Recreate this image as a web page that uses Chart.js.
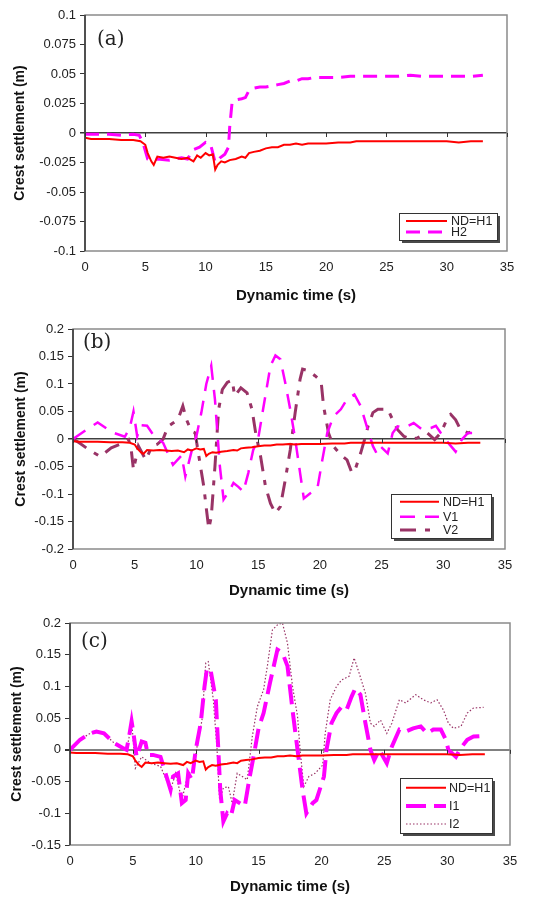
<!DOCTYPE html>
<html>
<head>
<meta charset="utf-8">
<script src="https://cdn.jsdelivr.net/npm/chart.js@4.4.1/dist/chart.umd.min.js"></script>
<style>
  body { margin: 0; background: #fff; }
  #wrap { position: relative; width: 555px; height: 897px; }
  canvas { position: absolute; left: 0; }
</style>
</head>
<body>
<div id="wrap">
  <canvas id="chartA" width="555" height="306" style="top:0px"></canvas>
  <canvas id="chartB" width="555" height="294" style="top:306px"></canvas>
  <canvas id="chartC" width="555" height="297" style="top:600px"></canvas>
</div>
<script>
// ---- data (time in s, settlement in m) ----
var ndT = [0, 0.5, 1, 2, 3, 4, 4.6, 5, 5.2, 5.5, 5.7, 6, 6.5, 7, 7.5, 8, 8.5, 9, 9.3, 9.6, 10, 10.3, 10.6, 10.8, 11, 11.3, 11.6, 12, 12.5, 13, 13.3, 13.6, 14, 14.5, 15, 15.5, 16, 16.5, 17, 17.5, 18, 18.5, 19, 20, 21, 22, 22.5, 23, 24, 25, 26, 27, 28, 29, 30, 31, 32, 33];
var ndV = [-0.004, -0.005, -0.005, -0.005, -0.006, -0.006, -0.007, -0.010, -0.017, -0.024, -0.027, -0.020, -0.021, -0.020, -0.021, -0.022, -0.021, -0.024, -0.019, -0.021, -0.017, -0.019, -0.018, -0.031, -0.027, -0.024, -0.025, -0.023, -0.022, -0.020, -0.021, -0.017, -0.016, -0.015, -0.013, -0.012, -0.012, -0.010, -0.010, -0.009, -0.010, -0.009, -0.009, -0.009, -0.008, -0.008, -0.007, -0.007, -0.007, -0.007, -0.007, -0.007, -0.007, -0.007, -0.007, -0.008, -0.007, -0.007];

var h2T = [0, 1, 2, 3, 4, 4.5, 4.8, 5.2, 5.5, 6, 7, 8, 8.5, 9, 9.5, 10, 10.4, 10.8, 11.2, 11.6, 11.9, 12.0, 12.2, 12.5, 13, 13.3, 13.6, 14, 14.5, 15, 15.5, 16, 16.5, 17, 17.5, 18, 18.5, 19, 19.5, 20, 21, 22, 23, 24, 25, 26, 27, 28, 29, 30, 31, 32, 33];
var h2V = [-0.001, -0.001, -0.001, -0.002, -0.001, -0.002, -0.008, -0.022, -0.023, -0.022, -0.023, -0.021, -0.022, -0.014, -0.012, -0.008, -0.009, -0.025, -0.021, -0.018, -0.012, 0.005, 0.026, 0.028, 0.029, 0.030, 0.036, 0.038, 0.039, 0.039, 0.040, 0.041, 0.042, 0.044, 0.044, 0.046, 0.046, 0.047, 0.047, 0.047, 0.047, 0.048, 0.048, 0.048, 0.048, 0.048, 0.049, 0.048, 0.048, 0.048, 0.048, 0.048, 0.049];

var v1T = [0, 1.1, 2.0, 3.2, 4.2, 4.6, 4.9, 5.2, 5.5, 6.0, 6.4, 6.6, 7.3, 8.1, 8.8, 9.1, 9.6, 10.0, 10.4, 10.8, 11.2, 11.5, 11.9, 12.2, 12.7, 13.0, 13.4, 13.8, 14.2, 14.6, 15.0, 15.4, 16.0, 16.4, 16.8, 17.2, 17.6, 18.0, 18.4, 18.7, 19.2, 19.8, 20.2, 20.6, 21.1, 21.7, 22.2, 22.8, 23.3, 23.8, 24.3, 24.6, 24.9, 25.5, 25.9, 26.3, 26.8, 27.6, 28.3, 29.0, 29.4, 29.8, 30.4, 31.0, 31.5, 32.0, 32.9];
var v1V = [0, 0.017, 0.030, 0.012, 0.004, 0.020, 0.050, 0.005, 0.025, 0.024, 0.011, 0.005, -0.007, -0.047, -0.030, -0.068, -0.023, 0.005, 0.048, 0.100, 0.133, 0.072, -0.050, -0.110, -0.093, -0.080, -0.087, -0.096, -0.062, -0.020, 0, 0.054, 0.133, 0.152, 0.145, 0.102, 0.054, 0, -0.062, -0.108, -0.099, -0.090, -0.038, 0.011, 0.041, 0.054, 0.072, 0.081, 0.060, 0.023, -0.013, -0.026, -0.013, -0.026, 0.011, 0.023, 0.020, 0.029, 0.017, 0.020, 0.024, 0.011, -0.007, -0.023, -0.001, 0.011, 0.011];

var v2T = [0, 0.5, 1.2, 2.2, 3.1, 4.1, 4.5, 4.7, 4.9, 5.3, 5.9, 6.4, 6.8, 7.3, 7.7, 8.1, 8.5, 8.9, 9.2, 9.6, 9.9, 10.2, 10.6, 10.8, 11.0, 11.2, 11.5, 11.8, 12.1, 12.5, 12.9, 13.1, 13.6, 14.1, 14.5, 14.8, 15.2, 15.6, 16.0, 16.4, 16.8, 17.2, 17.6, 18.0, 18.4, 18.6, 19.1, 19.6, 20.1, 20.3, 20.7, 21.1, 21.7, 22.2, 22.6, 22.9, 23.3, 23.7, 23.9, 24.3, 24.7, 25.1, 25.5, 25.9, 26.3, 26.8, 27.4, 27.9, 28.7, 29.3, 29.8, 30.4, 30.6, 31.0, 31.4, 32.0, 32.5];
var v2V = [0, -0.007, -0.018, -0.032, -0.016, -0.007, -0.001, -0.016, -0.056, -0.013, -0.038, -0.013, -0.010, 0, 0.023, 0.029, 0.035, 0.060, 0.035, 0.014, 0.011, -0.032, -0.087, -0.126, -0.163, -0.142, -0.050, 0.054, 0.090, 0.103, 0.107, 0.078, 0.093, 0.084, 0.054, 0.011, -0.032, -0.087, -0.117, -0.135, -0.123, -0.074, -0.020, 0.048, 0.109, 0.127, 0.124, 0.115, 0.105, 0.060, 0.011, -0.013, -0.029, -0.038, -0.062, -0.053, -0.026, 0.005, 0.023, 0.048, 0.054, 0.054, 0.054, 0.035, 0.017, 0.005, -0.001, 0.002, 0.011, -0.001, 0.011, 0.041, 0.045, 0.035, 0.017, 0.011, 0.014];

var i1T = [0, 0.8, 1.6, 2.1, 2.7, 3.5, 4.2, 4.5, 4.7, 4.9, 5.05, 5.3, 5.7, 6.0, 6.2, 6.6, 7.2, 7.6, 8.0, 8.2, 8.6, 8.9, 9.2, 9.4, 9.7, 10.0, 10.4, 10.7, 10.9, 11.2, 11.6, 11.8, 11.95, 12.2, 12.5, 12.8, 13.1, 13.5, 13.9, 14.3, 14.7, 15.0, 15.4, 15.9, 16.5, 16.9, 17.3, 17.7, 18.1, 18.5, 18.8, 19.3, 19.6, 20.2, 20.4, 20.8, 21.2, 21.6, 22.0, 22.4, 22.7, 23.1, 23.5, 23.9, 24.2, 24.6, 25.2, 25.6, 26.2, 26.7, 27.3, 27.9, 28.4, 28.9, 29.5, 29.9, 30.1, 30.7, 31.1, 31.6, 32.1, 32.9];
var i1V = [0, 0.016, 0.026, 0.029, 0.026, 0.011, 0.003, 0, 0.021, 0.045, 0.026, -0.011, 0.013, 0.011, -0.008, -0.008, -0.011, -0.037, -0.063, -0.042, -0.037, -0.084, -0.079, -0.037, -0.047, 0, 0.042, 0.100, 0.129, 0.124, 0.079, 0, -0.063, -0.113, -0.100, -0.105, -0.079, -0.084, -0.089, -0.042, 0, 0.034, 0.058, 0.105, 0.158, 0.153, 0.132, 0.063, 0, -0.063, -0.100, -0.084, -0.079, -0.042, 0, 0.042, 0.058, 0.068, 0.063, 0.084, 0.097, 0.087, 0.042, 0, -0.016, 0, -0.021, 0.005, 0.032, 0.029, 0.034, 0.037, 0.026, 0.032, 0.032, 0.016, 0, -0.011, 0.003, 0.016, 0.021, 0.022];

var i2T = [0, 0.8, 1.6, 2.1, 2.7, 3.5, 4.2, 4.5, 4.7, 4.9, 5.2, 5.7, 6.4, 7.2, 8.0, 8.4, 8.9, 9.4, 9.8, 10.2, 10.5, 10.8, 11.0, 11.4, 11.7, 11.9, 12.2, 12.6, 12.9, 13.3, 13.7, 14.1, 14.5, 14.9, 15.4, 15.7, 16.1, 16.5, 16.9, 17.3, 17.7, 18.1, 18.3, 18.6, 19.0, 19.5, 20.1, 20.3, 20.7, 21.2, 21.6, 22.2, 22.6, 23.0, 23.5, 23.9, 24.2, 24.7, 25.2, 25.6, 26.2, 26.7, 27.5, 28.1, 28.7, 29.2, 29.7, 30.1, 30.5, 31.1, 31.6, 32.1, 32.9];
var i2V = [0, 0.016, 0.026, 0.029, 0.026, 0.011, 0.003, 0, 0.020, 0.047, -0.029, -0.011, -0.021, -0.026, -0.063, -0.037, -0.079, -0.037, -0.032, 0.016, 0.047, 0.137, 0.139, 0.079, 0, -0.079, -0.060, -0.058, -0.084, -0.037, -0.042, -0.047, 0.021, 0.068, 0.095, 0.132, 0.189, 0.197, 0.200, 0.168, 0.100, 0.053, 0, -0.058, -0.042, -0.037, -0.024, 0.026, 0.079, 0.100, 0.110, 0.116, 0.145, 0.121, 0.089, 0.042, 0.037, 0.047, 0.026, 0.042, 0.079, 0.074, 0.087, 0.079, 0.074, 0.079, 0.063, 0.042, 0.034, 0.037, 0.058, 0.066, 0.067];

var xTickStep = 5;
var FONT = "'Liberation Sans', Arial, sans-serif";

function pts(t, v) {
    return t.map(function (x, i) { return { x: x, y: v[i] }; });
}

function fmt(v) {
    return String(parseFloat(Number(v).toFixed(3)));
}

// frame around the plot area + tick marks sitting on the zero line
var framePlugin = {
    id: 'frame',
    afterDatasetsDraw: function (chart, args, o) {
        var a = chart.chartArea, ctx = chart.ctx;
        ctx.save();
        ctx.lineWidth = 1.5;
        ctx.strokeStyle = o.color;
        ctx.strokeRect(a.left, a.top, a.right - a.left, a.bottom - a.top);
        ctx.strokeStyle = o.axisColor;
        ctx.beginPath();
        ctx.moveTo(a.left, a.top);
        ctx.lineTo(a.left, a.bottom);
        ctx.stroke();
        var xs = chart.scales.x, y0 = chart.scales.y.getPixelForValue(0);
        ctx.lineWidth = 1;
        xs.ticks.forEach(function (t) {
            var px = Math.round(xs.getPixelForValue(t.value)) + 0.5;
            ctx.beginPath();
            ctx.moveTo(px, y0);
            ctx.lineTo(px, y0 + 4);
            ctx.stroke();
        });
        ctx.restore();
    }
};

// boxed legend with drop shadow, drawn inside the plot
var boxLegend = {
    id: 'boxLegend',
    afterDraw: function (chart, args, o) {
        var ctx = chart.ctx;
        ctx.save();
        ctx.fillStyle = '#4a4a4a';
        ctx.fillRect(o.x + 3, o.y + 3, o.w, o.h);
        ctx.fillStyle = '#fff';
        ctx.fillRect(o.x, o.y, o.w, o.h);
        ctx.strokeStyle = '#333';
        ctx.lineWidth = 1;
        ctx.strokeRect(o.x + 0.5, o.y + 0.5, o.w, o.h);
        chart.data.datasets.forEach(function (ds, i) {
            var ry = o.rows[i];
            ctx.strokeStyle = ds.borderColor;
            ctx.lineWidth = ds.borderWidth;
            ctx.setLineDash(ds.borderDash || []);
            ctx.beginPath();
            ctx.moveTo(o.lineX0, ry);
            ctx.lineTo(o.lineX1, ry);
            ctx.stroke();
            ctx.setLineDash([]);
            ctx.fillStyle = '#222';
            ctx.font = '12.5px ' + FONT;
            ctx.textBaseline = 'middle';
            ctx.fillText(ds.label, o.textX, ry + 1);
        });
        ctx.restore();
    }
};

var panelLabel = {
    id: 'panelLabel',
    afterDraw: function (chart, args, o) {
        var ctx = chart.ctx;
        ctx.save();
        ctx.fillStyle = '#222';
        ctx.font = "20px 'DejaVu Serif', serif";
        ctx.textBaseline = 'middle';
        ctx.fillText(o.text, o.x, o.y);
        ctx.restore();
    }
};

function ndSet() {
    return { label: 'ND=H1', data: pts(ndT, ndV), borderColor: '#ff0000', borderWidth: 2, pointRadius: 0, tension: 0 };
}

function makeChart(id, p) {
    return new Chart(document.getElementById(id).getContext('2d'), {
        type: 'line',
        data: { datasets: p.datasets },
        plugins: [framePlugin, boxLegend, panelLabel],
        options: {
            responsive: false,
            animation: false,
            devicePixelRatio: 1,
            layout: { padding: { left: 0, top: p.top, right: p.right, bottom: 0 } },
            plugins: {
                legend: { display: false },
                tooltip: { enabled: false },
                frame: { color: '#8a8a8a', axisColor: '#333' },
                boxLegend: p.legend,
                panelLabel: p.label
            },
            scales: {
                x: {
                    type: 'linear', min: 0, max: 35,
                    ticks: { stepSize: xTickStep, padding: 9, color: '#222', maxRotation: 0, font: { size: 13, family: FONT } },
                    grid: { display: false, drawTicks: false, tickLength: 0 },
                    border: { display: false },
                    title: { display: true, text: 'Dynamic time (s)', color: '#111', font: { size: 15, weight: 'bold', family: FONT }, padding: { top: 0, bottom: p.xTitlePad } },
                    afterFit: function (s) { s.height = p.xHeight; }
                },
                y: {
                    min: p.yMin, max: p.yMax,
                    ticks: { stepSize: p.yStep, padding: 4, color: '#222', font: { size: 13, family: FONT }, callback: fmt },
                    grid: {
                        drawTicks: true, tickLength: 5, tickColor: '#333',
                        color: function (c) { return c.tick && Math.abs(c.tick.value) < 1e-9 ? p.zeroColor : 'rgba(0,0,0,0)'; },
                        lineWidth: function (c) { return c.tick && Math.abs(c.tick.value) < 1e-9 ? p.zeroWidth : 1; }
                    },
                    border: { display: false },
                    title: { display: true, text: 'Crest settlement (m)', color: '#111', font: { size: 14, weight: 'bold', family: FONT }, padding: { top: p.yTitlePad, bottom: 0 } },
                    afterFit: function (s) { s.width = p.yWidth; }
                }
            }
        }
    });
}

// (a)
makeChart('chartA', {
    top: 15, right: 48, yWidth: 85, xHeight: 55, xTitlePad: 1, yTitlePad: 12,
    yMin: -0.1, yMax: 0.1, yStep: 0.025, zeroColor: '#404040', zeroWidth: 1.5,
    label: { text: '(a)', x: 97, y: 40 },
    legend: { x: 399, y: 213, w: 98, h: 27, rows: [221, 232], lineX0: 406, lineX1: 447, textX: 451 },
    datasets: [
        ndSet(),
        { label: 'H2', data: pts(h2T, h2V), borderColor: '#ff00ff', borderWidth: 3, borderDash: [14, 8], pointRadius: 0, tension: 0 }
    ]
});

// (b)
makeChart('chartB', {
    top: 23, right: 50, yWidth: 73, xHeight: 51, xTitlePad: 0, yTitlePad: 13,
    yMin: -0.2, yMax: 0.2, yStep: 0.05, zeroColor: '#404040', zeroWidth: 1.5,
    label: { text: '(b)', x: 83, y: 37 },
    legend: { x: 391, y: 188, w: 100, h: 44, rows: [195.7, 210.7, 224], lineX0: 400, lineX1: 439, textX: 443 },
    datasets: [
        ndSet(),
        { label: 'V1', data: pts(v1T, v1V), borderColor: '#ff00ff', borderWidth: 2.5, borderDash: [15, 10], pointRadius: 0, tension: 0 },
        { label: 'V2', data: pts(v2T, v2V), borderColor: '#993366', borderWidth: 3, borderDash: [16, 9, 5, 9], pointRadius: 0, tension: 0 }
    ]
});

// (c)
makeChart('chartC', {
    top: 23, right: 45, yWidth: 70, xHeight: 52, xTitlePad: 1, yTitlePad: 9,
    yMin: -0.15, yMax: 0.2, yStep: 0.05, zeroColor: '#808080', zeroWidth: 2,
    label: { text: '(c)', x: 81, y: 42 },
    legend: { x: 400, y: 178, w: 92, h: 55, rows: [187.7, 206, 224], lineX0: 406, lineX1: 446, textX: 449 },
    datasets: [
        ndSet(),
        { label: 'I1', data: pts(i1T, i1V), borderColor: '#ff00ff', borderWidth: 4, borderDash: [20, 8], pointRadius: 0, tension: 0 },
        { label: 'I2', data: pts(i2T, i2V), borderColor: '#993366', borderWidth: 1.2, borderDash: [1.5, 2], pointRadius: 0, tension: 0 }
    ]
});
</script>
</body>
</html>
